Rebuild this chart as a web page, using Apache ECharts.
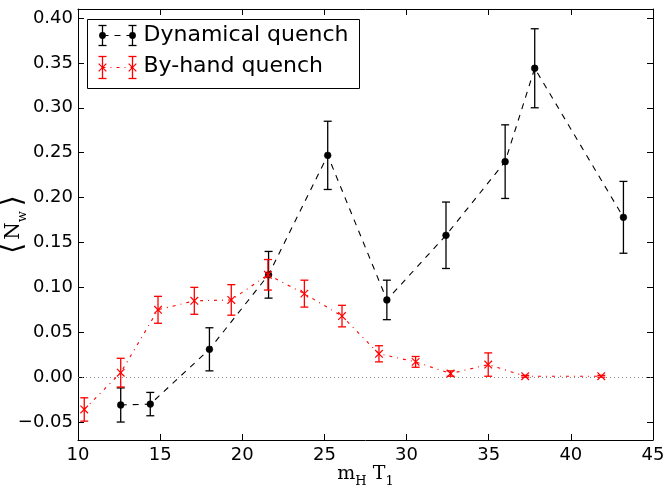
<!DOCTYPE html>
<html>
<head>
<meta charset="utf-8">
<script src="https://cdn.jsdelivr.net/npm/echarts@6/dist/echarts.min.js"></script>
<style>html,body{margin:0;padding:0;background:#fff}#c{width:666px;height:485px}</style>
</head>
<body>
<div id="c"></div>
<script>
// ---- data ----
const dynX   = [12.6, 14.4, 18.0, 21.6, 25.2, 28.8, 32.4, 36.0, 37.8, 43.2];
const dynY   = [-0.031, -0.030, 0.031, 0.114, 0.247, 0.086, 0.158, 0.240, 0.344, 0.178];
const dynErr = [0.019, 0.013, 0.024, 0.026, 0.038, 0.022, 0.037, 0.041, 0.044, 0.040];

const handX   = [10.38, 12.6, 14.87, 17.08, 19.33, 21.56, 23.78, 26.07, 28.32, 30.55, 32.68, 34.97, 37.22, 41.85];
const handY   = [-0.036, 0.005, 0.075, 0.085, 0.086, 0.114, 0.093, 0.068, 0.026, 0.017, 0.004, 0.014, 0.001, 0.001];
const handErr = [0.013, 0.016, 0.015, 0.015, 0.017, 0.017, 0.015, 0.012, 0.009, 0.006, 0.003, 0.013, 0.001, 0.001];

const xTicks = [10, 15, 20, 25, 30, 35, 40, 45];
const yTicks = [-0.05, 0.00, 0.05, 0.10, 0.15, 0.20, 0.25, 0.30, 0.35, 0.40];

const seriesNames = ['Dynamical quench', 'By-hand quench'];

// ---- build ----
const zip = (xs, ys) => xs.map((x, i) => [x, ys[i]]);
const zip3 = (xs, ys, es) => xs.map((x, i) => [x, ys[i], es[i]]);

function errRender(color, marker) {
  return function (params, api) {
    const x = api.value(0), y = api.value(1), e = api.value(2);
    const p = api.coord([x, y]);
    const t = api.coord([x, y + e]);
    const b = api.coord([x, y - e]);
    const cw = 4;
    const st = { stroke: color, lineWidth: 1.3 };
    const ch = [
      { type: 'line', shape: { x1: p[0], y1: t[1], x2: p[0], y2: b[1] }, style: st },
      { type: 'line', shape: { x1: p[0] - cw, y1: t[1], x2: p[0] + cw, y2: t[1] }, style: st },
      { type: 'line', shape: { x1: p[0] - cw, y1: b[1], x2: p[0] + cw, y2: b[1] }, style: st }
    ];
    if (marker === 'dot') {
      ch.push({ type: 'circle', shape: { cx: p[0], cy: p[1], r: 3.4 }, style: { fill: color, stroke: color, lineWidth: 0.5 } });
    } else {
      const s = 3.8;
      ch.push({ type: 'line', shape: { x1: p[0] - s, y1: p[1] - s, x2: p[0] + s, y2: p[1] + s }, style: { stroke: color, lineWidth: 1.2 } });
      ch.push({ type: 'line', shape: { x1: p[0] - s, y1: p[1] + s, x2: p[0] + s, y2: p[1] - s }, style: { stroke: color, lineWidth: 1.2 } });
    }
    return { type: 'group', children: ch };
  };
}

const fmtY = v => (v < 0 ? '\u2212' : '') + Math.abs(v).toFixed(2);

const serif = 'DejaVu Serif';
const baseAxisX = {
  type: 'value', min: 10, max: 45, interval: 5,
  axisLine: { show: true, onZero: false, lineStyle: { color: '#000', width: 1 } },
  axisTick: { show: true, inside: true, length: 6, lineStyle: { color: '#000', width: 1 } },
  splitLine: { show: false }
};
const baseAxisY = {
  type: 'value', min: -0.07, max: 0.41,
  axisLine: { show: true, onZero: false, lineStyle: { color: '#000', width: 1 } },
  axisTick: { show: true, inside: true, length: 6, customValues: yTicks, lineStyle: { color: '#000', width: 1 } },
  splitLine: { show: false }
};

const option = {
  backgroundColor: '#fff',
  animation: false,
  grid: { left: 78, right: 13, top: 9, bottom: 45, containLabel: false, outerBoundsMode: 'none' },
  xAxis: [
    Object.assign({}, baseAxisX, {
      position: 'bottom',
      axisLabel: { show: true, fontSize: 18, color: '#000', fontFamily: 'DejaVu Sans', margin: 6,
        customValues: xTicks, formatter: v => String(v) },
      name: '{a|m}{s|H}{a| T}{s|1}',
      nameLocation: 'middle', nameGap: 21, nameMoveOverlap: false,
      nameTextStyle: { rich: {
        a: { fontFamily: serif, fontSize: 19, color: '#000' },
        s: { fontFamily: serif, fontSize: 13, color: '#000', padding: [14, 0, 0, 0] }
      } }
    }),
    Object.assign({}, baseAxisX, { position: 'top', axisLabel: { show: false } })
  ],
  yAxis: [
    Object.assign({}, baseAxisY, {
      position: 'left',
      axisLabel: { show: true, fontSize: 18, color: '#000', fontFamily: 'DejaVu Sans', margin: 5,
        customValues: yTicks, formatter: fmtY },
      name: '{b|\u27E8}{n|N}{s|w}{c|\u27E9}',
      nameLocation: 'middle', nameGap: 49, nameRotate: 90, nameMoveOverlap: false,
      nameTextStyle: { rich: {
        b: { fontFamily: 'DejaVu Sans', fontSize: 28, color: '#000', padding: [0, 3, 0, 0] },
        c: { fontFamily: 'DejaVu Sans', fontSize: 28, color: '#000', padding: [0, 0, 0, 5] },
        n: { fontFamily: serif, fontSize: 20, color: '#000' },
        s: { fontFamily: serif, fontSize: 13, color: '#000', padding: [18, 0, 0, 0] }
      } }
    }),
    Object.assign({}, baseAxisY, { position: 'right', axisLabel: { show: false } })
  ],
  series: [
    {
      type: 'line', name: seriesNames[0], data: zip(dynX, dynY), symbol: 'none',
      lineStyle: { color: '#000', width: 1.1, type: [6, 6] },
      markLine: {
        silent: true, symbol: 'none', label: { show: false },
        lineStyle: { color: '#888', width: 1, type: [1, 3] },
        data: [{ yAxis: 0 }]
      },
      z: 2
    },
    { type: 'custom', name: seriesNames[0] + ' err', data: zip3(dynX, dynY, dynErr), renderItem: errRender('#000', 'dot'), z: 3 },
    {
      type: 'line', name: seriesNames[1], data: zip(handX, handY), symbol: 'none',
      lineStyle: { color: '#ff0000', width: 1.1, type: [3, 5, 1, 5] }, z: 4
    },
    { type: 'custom', name: seriesNames[1] + ' err', data: zip3(handX, handY, handErr), renderItem: errRender('#ff0000', 'x'), z: 5 }
  ],
  graphic: [
    {
      type: 'group', left: 87, top: 19, z: 100,
      children: [
        { type: 'rect', shape: { x: 0, y: 0, width: 272, height: 69 }, style: { fill: '#fff', stroke: '#000', lineWidth: 1 } },
        // entry 1
        { type: 'line', shape: { x1: 15, y1: 16, x2: 45, y2: 16 }, style: { stroke: '#000', lineWidth: 1, lineDash: [6, 6] } },
        { type: 'line', shape: { x1: 15, y1: 6, x2: 15, y2: 26 }, style: { stroke: '#000', lineWidth: 1.3 } },
        { type: 'line', shape: { x1: 11, y1: 6, x2: 19, y2: 6 }, style: { stroke: '#000', lineWidth: 1.3 } },
        { type: 'line', shape: { x1: 11, y1: 26, x2: 19, y2: 26 }, style: { stroke: '#000', lineWidth: 1.3 } },
        { type: 'circle', shape: { cx: 15, cy: 16, r: 3.4 }, style: { fill: '#000' } },
        { type: 'line', shape: { x1: 45, y1: 6, x2: 45, y2: 26 }, style: { stroke: '#000', lineWidth: 1.3 } },
        { type: 'line', shape: { x1: 41, y1: 6, x2: 49, y2: 6 }, style: { stroke: '#000', lineWidth: 1.3 } },
        { type: 'line', shape: { x1: 41, y1: 26, x2: 49, y2: 26 }, style: { stroke: '#000', lineWidth: 1.3 } },
        { type: 'circle', shape: { cx: 45, cy: 16, r: 3.4 }, style: { fill: '#000' } },
        { type: 'text', x: 56, y: 16, style: { text: seriesNames[0], fontSize: 22, fontFamily: 'DejaVu Sans', fill: '#000', textVerticalAlign: 'middle', verticalAlign: 'middle' } },
        // entry 2
        { type: 'line', shape: { x1: 15, y1: 48, x2: 45, y2: 48 }, style: { stroke: '#ff0000', lineWidth: 1, lineDash: [3, 5, 1, 5] } },
        { type: 'line', shape: { x1: 15, y1: 37, x2: 15, y2: 59 }, style: { stroke: '#ff0000', lineWidth: 1.3 } },
        { type: 'line', shape: { x1: 11, y1: 37, x2: 19, y2: 37 }, style: { stroke: '#ff0000', lineWidth: 1.3 } },
        { type: 'line', shape: { x1: 11, y1: 59, x2: 19, y2: 59 }, style: { stroke: '#ff0000', lineWidth: 1.3 } },
        { type: 'line', shape: { x1: 11.2, y1: 44.2, x2: 18.8, y2: 51.8 }, style: { stroke: '#ff0000', lineWidth: 1.2 } },
        { type: 'line', shape: { x1: 11.2, y1: 51.8, x2: 18.8, y2: 44.2 }, style: { stroke: '#ff0000', lineWidth: 1.2 } },
        { type: 'line', shape: { x1: 45, y1: 37, x2: 45, y2: 59 }, style: { stroke: '#ff0000', lineWidth: 1.3 } },
        { type: 'line', shape: { x1: 41, y1: 37, x2: 49, y2: 37 }, style: { stroke: '#ff0000', lineWidth: 1.3 } },
        { type: 'line', shape: { x1: 41, y1: 59, x2: 49, y2: 59 }, style: { stroke: '#ff0000', lineWidth: 1.3 } },
        { type: 'line', shape: { x1: 41.2, y1: 44.2, x2: 48.8, y2: 51.8 }, style: { stroke: '#ff0000', lineWidth: 1.2 } },
        { type: 'line', shape: { x1: 41.2, y1: 51.8, x2: 48.8, y2: 44.2 }, style: { stroke: '#ff0000', lineWidth: 1.2 } },
        { type: 'text', x: 56, y: 47, style: { text: seriesNames[1], fontSize: 22, fontFamily: 'DejaVu Sans', fill: '#000', textVerticalAlign: 'middle', verticalAlign: 'middle' } }
      ]
    }
  ]
};

const chart = echarts.init(document.getElementById('c'), null, { renderer: 'canvas' });
chart.setOption(option);
</script>
</body>
</html>
